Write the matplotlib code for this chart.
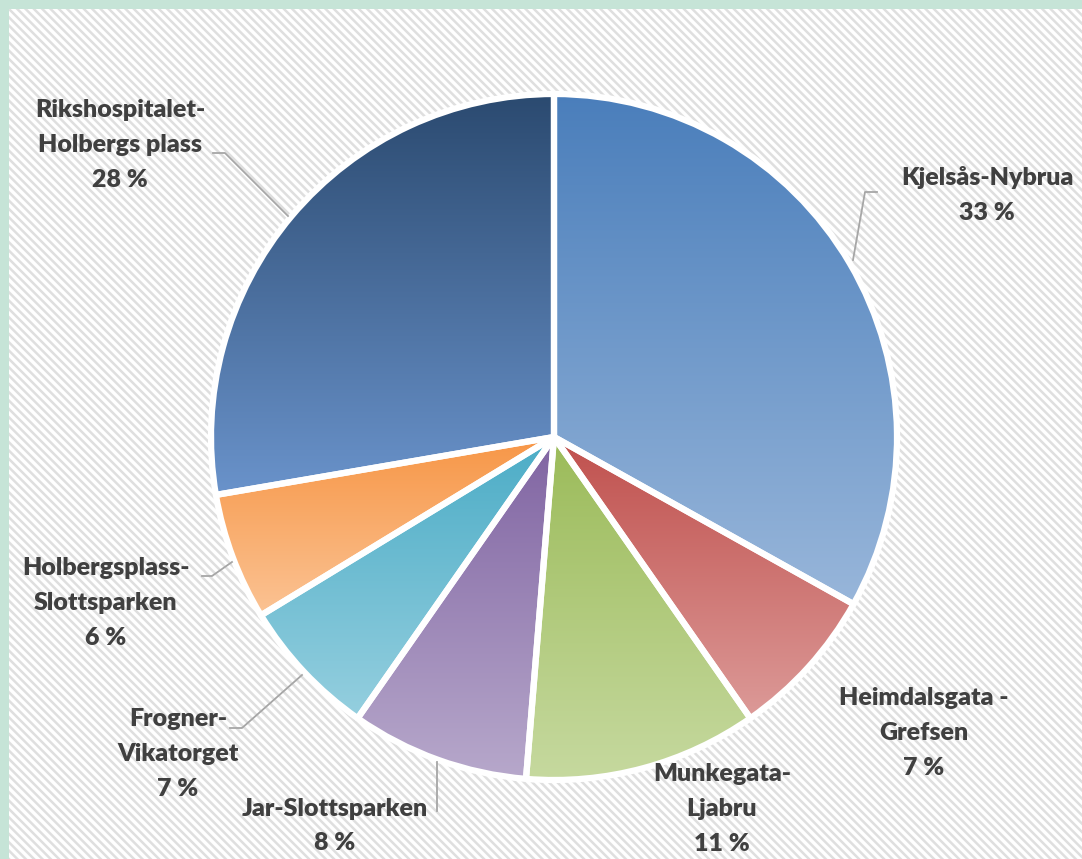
import numpy as np
import matplotlib
matplotlib.use("Agg")
import matplotlib.pyplot as plt
from matplotlib.colors import to_rgb
from matplotlib.patches import Rectangle

W, H = 1082, 859

# Data (share of trips per line)
routes = ["Kjelsås-Nybrua", "Heimdalsgata -\nGrefsen", "Munkegata-\nLjabru",
          "Jar-Slottsparken", "Frogner-\nVikatorget", "Holbergsplass-\nSlottsparken",
          "Rikshospitalet-\nHolbergs plass"]
shares = [33.1, 7.2, 11.0, 8.4, 6.6, 6.0, 27.7]

# gradient colours per slice (top -> bottom)
top_colors = ["#4a7ebb", "#c0504d", "#9bbb59", "#8064a2", "#4bacc6", "#f79646", "#2b4a70"]
bottom_colors = ["#98b6da", "#dc9a98", "#c6d99f", "#b7a8cb", "#95cfdf", "#fbc394", "#6a93cb"]

plt.rcParams["hatch.linewidth"] = 1.8
plt.rcParams["hatch.color"] = "#dfdfdf"

fig = plt.figure(figsize=(W / 100, H / 100), dpi=100, facecolor="#c6e4d7")
ax = fig.add_axes([0, 0, 1, 1])
ax.set_xlim(0, W)
ax.set_ylim(0, H)
ax.set_autoscale_on(False)
ax.axis("off")


def iy(y):
    # image y (from top) -> data y
    return H - y


# hatched panel background
ax.add_patch(Rectangle((9, -5), W, H - 4, facecolor="white", edgecolor="none", zorder=0))
ax.add_patch(Rectangle((9, -5), W, H - 4, facecolor="none", edgecolor="#dfdfdf",
                       hatch="\\\\\\\\", linewidth=0, zorder=0.5))

wedges, _ = ax.pie(shares, center=(554, iy(437)), radius=343, startangle=90,
                   counterclock=False, frame=True,
                   explode=[0.012, 0, 0, 0, 0, 0, 0],
                   wedgeprops=dict(edgecolor="white", linewidth=4.5, joinstyle="round"))
ax.set_xlim(0, W)
ax.set_ylim(0, H)
ax.axis("off")

for w, c0, c1 in zip(wedges, top_colors, bottom_colors):
    bb = w.get_path().get_extents()
    t = np.linspace(0, 1, 256)[:, None]
    img = (1 - t) * np.array(to_rgb(c0)) + t * np.array(to_rgb(c1))
    img = img[:, None, :]
    im = ax.imshow(img, extent=(bb.x0, bb.x1, bb.y0, bb.y1), origin="upper",
                   aspect="auto", zorder=2, interpolation="bilinear")
    im.set_clip_path(w)
    w.set_facecolor("none")
    w.set_zorder(3)

ax.set_xlim(0, W)
ax.set_ylim(0, H)

# labels
label_pos = [(987, 195), (924, 733), (722, 809), (335, 826), (178, 754), (106, 603), (120, 145)]
for name, val, (x, y) in zip(routes, shares, label_pos):
    ax.text(x, iy(y), f"{name}\n{val:.0f} %", ha="center", va="center",
            fontsize=18, fontweight="heavy", color="#404040", family="Lato",
            linespacing=1.7, zorder=5)

# leader lines
leaders = [
    [(853, 260), (865, 192), (877, 192)],
    [(213, 153), (225, 153), (288, 216)],
    [(202, 576), (212, 576), (232, 562)],
    [(230, 728), (242, 728), (302, 675)],
    [(437, 762), (437, 811)],
]
for pts in leaders:
    xs = [p[0] for p in pts]
    ys = [iy(p[1]) for p in pts]
    ax.plot(xs, ys, color="#a6a6a6", linewidth=1.3, zorder=4)

fig.savefig("out.png", dpi=100, facecolor=fig.get_facecolor())
